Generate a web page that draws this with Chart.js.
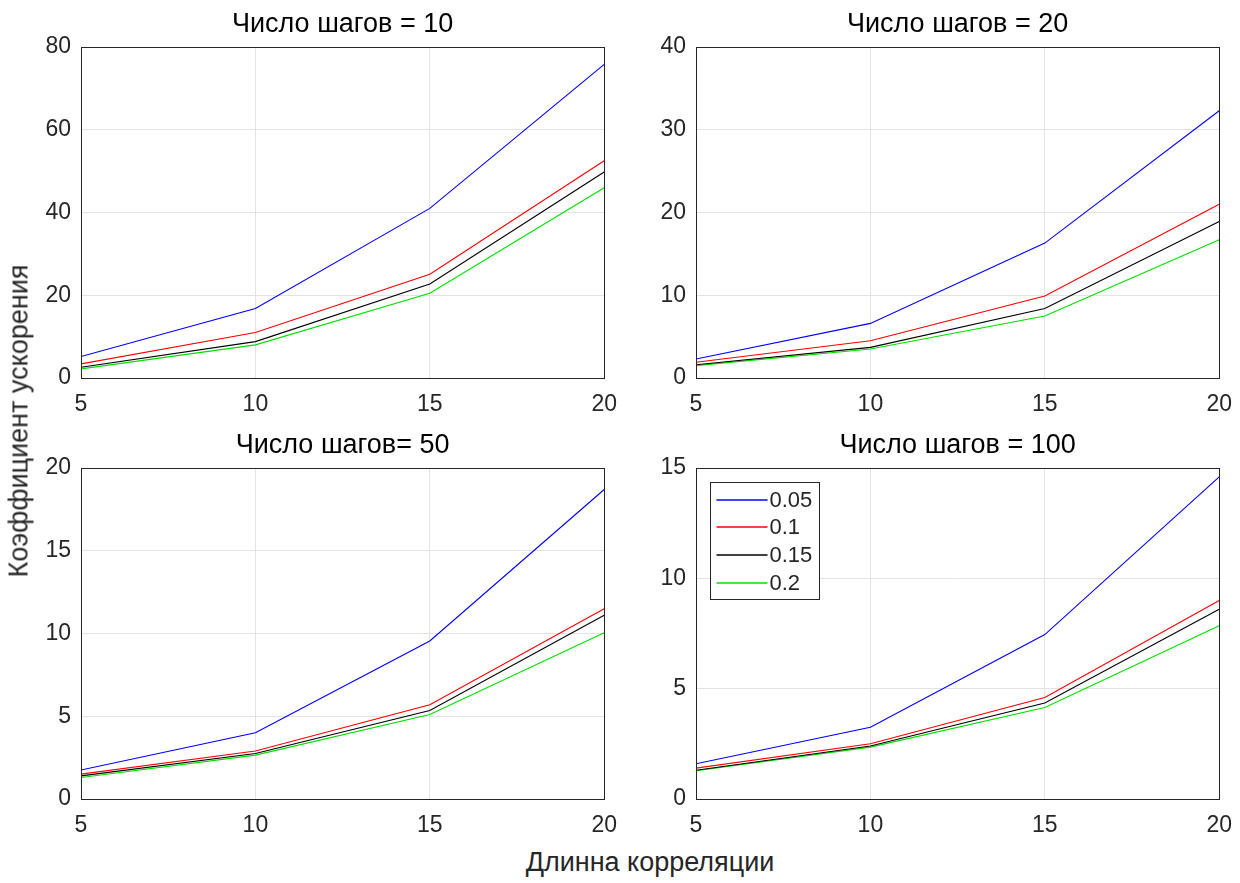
<!DOCTYPE html>
<html>
<head>
<meta charset="utf-8">
<script src="https://cdn.jsdelivr.net/npm/chart.js@4/dist/chart.umd.min.js"></script>
<style>
    body { margin: 0; background: #ffffff; }
    #wrap { position: relative; width: 1240px; height: 883px; overflow: hidden; font-family: "Liberation Sans", Arial, sans-serif; color: #262626; }
    .plot { position: absolute; }
    #yLabel { position: absolute; left: 19px; top: 421px; transform: translate(-50%, -50%) rotate(-90deg); font-size: 27px; white-space: nowrap; }
    #xLabel { position: absolute; left: 650px; top: 862px; transform: translate(-50%, -50%); font-size: 27px; white-space: nowrap; }
</style>
</head>
<body>
<div id="wrap">
    <canvas id="g10" class="plot" style="left:0px; top:0px;"></canvas>
    <canvas id="g20" class="plot" style="left:615px; top:0px;"></canvas>
    <canvas id="g50" class="plot" style="left:0px; top:421px;"></canvas>
    <canvas id="g100" class="plot" style="left:615px; top:421px;"></canvas>
    <div id="yLabel">Коэффициент ускорения</div>
    <div id="xLabel">Длинна корреляции</div>
</div>
<script>
// длина корреляции (ось X)
const dlinaKorr = [5, 10, 15, 20];
const legendLabels = ["0.05", "0.1", "0.15", "0.2"];
const cores = ["#0000ff", "#ff0000", "#000000", "#00e000"];

// Число шагов = 10
const passos10_005 = [5.2, 16.8, 41.0, 75.8];
const passos10_01  = [3.4, 11.0, 25.1, 52.5];
const passos10_015 = [2.6, 8.8, 22.7, 49.8];
const passos10_02  = [2.2, 8.0, 20.5, 46.0];

// Число шагов = 20
const passos20_005 = [2.3, 6.6, 16.3, 32.3];
const passos20_01  = [1.9, 4.5, 9.9, 21.0];
const passos20_015 = [1.6, 3.7, 8.4, 18.9];
const passos20_02  = [1.5, 3.5, 7.5, 16.7];

// Число шагов = 50
const passos50_005 = [1.75, 4.0, 9.55, 18.7];
const passos50_01  = [1.5, 2.9, 5.7, 11.5];
const passos50_015 = [1.4, 2.75, 5.35, 11.1];
const passos50_02  = [1.3, 2.65, 5.1, 10.05];

// Число шагов = 100
const passos100_005 = [1.6, 3.25, 7.45, 14.6];
const passos100_01  = [1.4, 2.5, 4.6, 9.0];
const passos100_015 = [1.3, 2.4, 4.35, 8.6];
const passos100_02  = [1.28, 2.35, 4.15, 7.85];

const fonte = '"Liberation Sans", Arial, sans-serif';
const W = 630, H = 425;

// moldura preta em volta da area do grafico
const caixaPlugin = {
    id: 'caixa',
    afterDatasetsDraw(chart) {
        const a = chart.chartArea;
        const ctx = chart.ctx;
        ctx.save();
        ctx.strokeStyle = '#262626';
        ctx.lineWidth = 1;
        ctx.strokeRect(Math.round(a.left) + 0.5, Math.round(a.top) + 0.5, Math.round(a.right - a.left), Math.round(a.bottom - a.top));
        ctx.restore();
    }
};

// legenda dentro da area (estilo matlab)
const legendaPlugin = {
    id: 'legendaDentro',
    afterDraw(chart, args, opts) {
        if (!opts.show) return;
        const a = chart.chartArea;
        const ctx = chart.ctx;
        const x0 = Math.round(a.left) + 14.5, y0 = Math.round(a.top) + 14.5;
        const w = 109, h = 117;
        ctx.save();
        ctx.fillStyle = '#ffffff';
        ctx.fillRect(x0, y0, w, h);
        ctx.strokeStyle = '#262626';
        ctx.lineWidth = 1;
        ctx.strokeRect(x0, y0, w, h);
        ctx.font = '22px ' + fonte;
        ctx.textBaseline = 'middle';
        chart.data.datasets.forEach((ds, i) => {
            const yy = Math.round(y0 + 17 + i * 27.8);
            ctx.beginPath();
            ctx.strokeStyle = ds.borderColor;
            ctx.lineWidth = 1.4;
            ctx.moveTo(x0 + 6, yy);
            ctx.lineTo(x0 + 57, yy);
            ctx.stroke();
            ctx.fillStyle = '#262626';
            ctx.fillText(ds.label, x0 + 59, yy + 1);
        });
        ctx.restore();
    }
};

function gerarGrafico(id, titulo, series, yMax, yStep, comLegenda) {
    const canvas = document.getElementById(id);
    canvas.width = W;
    canvas.height = H;
    canvas.style.width = W + 'px';
    canvas.style.height = H + 'px';

    const datasets = series.map((s, i) => ({
        label: legendLabels[i],
        data: dlinaKorr.map((x, j) => ({ x: x, y: s[j] })),
        borderColor: cores[i],
        borderWidth: 1.1,
        pointRadius: 0,
        fill: false,
        tension: 0
    }));

    return new Chart(canvas.getContext('2d'), {
        type: 'line',
        data: { datasets: datasets },
        options: {
            responsive: false,
            animation: false,
            devicePixelRatio: 1,
            layout: { padding: { left: 0, right: 0, top: 0, bottom: 0 } },
            plugins: {
                legend: { display: false },
                tooltip: { enabled: false },
                title: {
                    display: true,
                    text: titulo,
                    fullSize: false,
                    color: '#000000',
                    font: { family: fonte, size: 27, weight: 'normal', lineHeight: 1 },
                    padding: { top: 11, bottom: 9 }
                },
                legendaDentro: { show: comLegenda }
            },
            scales: {
                x: {
                    type: 'linear',
                    min: 5,
                    max: 20,
                    afterFit: (scale) => { scale.height = 47; },
                    ticks: { stepSize: 5, padding: 13, color: '#262626', font: { family: fonte, size: 23 } },
                    grid: { color: '#e3e3e3', drawTicks: false },
                    border: { display: false }
                },
                y: {
                    type: 'linear',
                    min: 0,
                    max: yMax,
                    afterFit: (scale) => { scale.width = 81; },
                    ticks: { stepSize: yStep, padding: 10, color: '#262626', font: { family: fonte, size: 23 } },
                    grid: { color: '#e3e3e3', drawTicks: false },
                    border: { display: false }
                }
            }
        },
        plugins: [caixaPlugin, legendaPlugin]
    });
}

addEventListener("DOMContentLoaded", () => {
    gerarGrafico('g10', 'Число шагов = 10', [passos10_005, passos10_01, passos10_015, passos10_02], 80, 20, false);
    gerarGrafico('g20', 'Число шагов = 20', [passos20_005, passos20_01, passos20_015, passos20_02], 40, 10, false);
    gerarGrafico('g50', 'Число шагов= 50', [passos50_005, passos50_01, passos50_015, passos50_02], 20, 5, false);
    gerarGrafico('g100', 'Число шагов = 100', [passos100_005, passos100_01, passos100_015, passos100_02], 15, 5, true);
});
</script>
</body>
</html>
